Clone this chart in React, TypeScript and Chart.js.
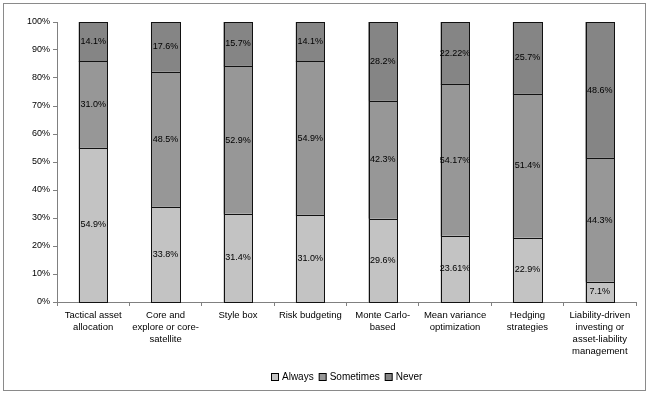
import React, { useEffect, useRef } from "react";
import { Chart, registerables } from "chart.js";

Chart.register(...registerables);

const categories: string[][] = [
  ["Tactical asset", "allocation"],
  ["Core and", "explore or core-", "satellite"],
  ["Style box"],
  ["Risk budgeting"],
  ["Monte Carlo-", "based"],
  ["Mean variance", "optimization"],
  ["Hedging", "strategies"],
  ["Liability-driven", "investing or", "asset-liability", "management"],
];

const always = [54.9, 33.8, 31.4, 31.0, 29.6, 23.61, 22.9, 7.1];
const sometimes = [31.0, 48.5, 52.9, 54.9, 42.3, 54.17, 51.4, 44.3];
const never = [14.1, 17.6, 15.7, 14.1, 28.2, 22.22, 25.7, 48.6];

const seriesNames = ["Always", "Sometimes", "Never"];
const seriesColors = ["#c3c3c3", "#979797", "#858585"];

const FONT = "'Liberation Sans', Arial, sans-serif";

function fmt(v: number): string {
  const oneDec = Math.abs(Math.round(v * 10) - v * 10) < 1e-6;
  return v.toFixed(oneDec ? 1 : 2) + "%";
}

const labelsPlugin = {
  id: "segLabels",
  afterDatasetsDraw(chart: any) {
    const ctx = chart.ctx;
    ctx.save();
    // crisp borders around each segment
    ctx.strokeStyle = "#111";
    ctx.lineWidth = 1;
    chart.data.datasets.forEach((_ds: any, i: number) => {
      const meta = chart.getDatasetMeta(i);
      meta.data.forEach((el: any) => {
        const l = Math.round(el.x - el.width / 2);
        const r = Math.round(el.x + el.width / 2);
        const t = Math.round(Math.min(el.y, el.base));
        const b = Math.round(Math.max(el.y, el.base));
        ctx.strokeRect(l + 0.5, t + 0.5, r - l, b - t);
      });
    });
    // labels
    ctx.font = `9px ${FONT}`;
    ctx.fillStyle = "#000";
    ctx.textAlign = "center";
    ctx.textBaseline = "middle";
    chart.data.datasets.forEach((ds: any, i: number) => {
      const meta = chart.getDatasetMeta(i);
      meta.data.forEach((el: any, j: number) => {
        const p = el.getCenterPoint();
        ctx.fillText(fmt(ds.data[j]), p.x, p.y);
      });
    });
    ctx.restore();
  },
};

const framePlugin = {
  id: "frameLegend",
  beforeDraw(chart: any) {
    const ctx = chart.ctx;
    ctx.save();
    ctx.fillStyle = "#fff";
    ctx.fillRect(0, 0, chart.width, chart.height);
    ctx.strokeStyle = "#8a8a8a";
    ctx.lineWidth = 1;
    ctx.strokeRect(3.5, 3.5, 642, 387);
    ctx.restore();
  },
  afterDraw(chart: any) {
    const ctx = chart.ctx;
    ctx.save();
    ctx.font = `10px ${FONT}`;
    ctx.textBaseline = "middle";
    ctx.textAlign = "left";
    const items = chart.data.datasets.map((d: any) => ({ text: d.label, color: d.backgroundColor }));
    const box = 7;
    const gap = 4;
    const spacing = 5;
    let total = 0;
    items.forEach((it: any, i: number) => {
      total += box + gap + ctx.measureText(it.text).width + (i < items.length - 1 ? spacing : 0);
    });
    let x = Math.round(346.5 - total / 2);
    const y = 377;
    items.forEach((it: any) => {
      ctx.fillStyle = it.color;
      ctx.fillRect(x + 0.5, y - 3.5, box, box);
      ctx.strokeStyle = "#000";
      ctx.lineWidth = 1;
      ctx.strokeRect(x + 0.5, y - 3.5, box, box);
      x += box + gap;
      ctx.fillStyle = "#000";
      ctx.fillText(it.text, x, y);
      x += ctx.measureText(it.text).width + spacing;
    });
    ctx.restore();
  },
};

export default function App() {
  const ref = useRef<HTMLCanvasElement | null>(null);
  useEffect(() => {
    document.body.style.margin = "0";
    const canvas = ref.current;
    if (!canvas) return;
    const seriesData = [always, sometimes, never];
    const chart = new Chart(canvas, {
      type: "bar",
      data: {
        labels: categories,
        datasets: seriesNames.map((name, i) => ({
          label: name,
          data: seriesData[i],
          backgroundColor: seriesColors[i],
          borderWidth: 0,
          inflateAmount: 0.5,
          categoryPercentage: 1,
          barPercentage: 0.39,
        })),
      },
      options: {
        animation: false,
        responsive: false,
        maintainAspectRatio: false,
        devicePixelRatio: 1,
        layout: { padding: { left: 0, top: 22, right: 14, bottom: 0 } },
        plugins: {
          legend: { display: false },
          tooltip: { enabled: false },
        },
        scales: {
          x: {
            stacked: true,
            offset: true,
            grid: {
              offset: true,
              drawOnChartArea: false,
              drawTicks: true,
              tickLength: 4,
              color: "#808080",
            },
            border: { color: "#808080", width: 1 },
            ticks: {
              color: "#000",
              font: { family: FONT, size: 9.5, lineHeight: 1.26 },
              padding: 3,
              maxRotation: 0,
              autoSkip: false,
            },
            afterFit(scale: any) {
              scale.height = 91;
            },
          },
          y: {
            stacked: true,
            min: 0,
            max: 100,
            grid: {
              drawOnChartArea: false,
              drawTicks: true,
              tickLength: 4,
              color: "#808080",
            },
            border: { color: "#808080", width: 1 },
            ticks: {
              stepSize: 10,
              color: "#000",
              font: { family: FONT, size: 9 },
              padding: 3,
              callback: (v: any) => `${v}%`,
            },
            afterFit(scale: any) {
              scale.width = 57;
            },
          },
        },
      },
      plugins: [labelsPlugin, framePlugin],
    } as any);
    return () => chart.destroy();
  }, []);
  return (
    <div style={{ width: 650, height: 393 }}>
      <canvas ref={ref} width={650} height={393} style={{ width: 650, height: 393, display: "block" }} />
    </div>
  );
}
